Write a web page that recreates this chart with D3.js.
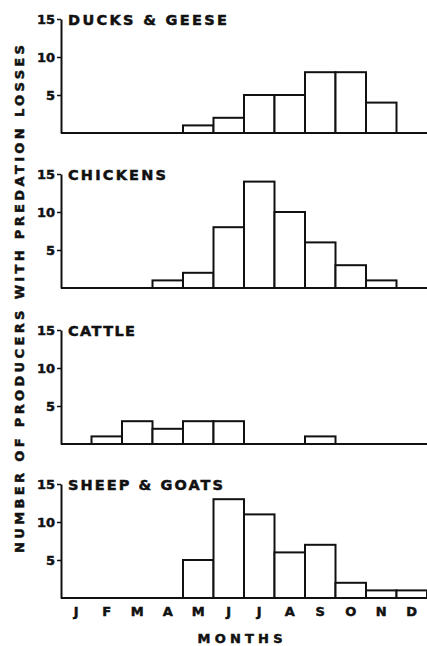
<!DOCTYPE html>
<html>
<head>
<meta charset="utf-8">
<script src="https://cdn.jsdelivr.net/npm/d3@7"></script>
<style>
  html, body { margin: 0; padding: 0; background: #fff; }
  svg { display: block; }
  text { font-family: "DejaVu Sans", "Liberation Sans", sans-serif; font-weight: bold; fill: #111; stroke: #111; stroke-width: 0.5px; }
</style>
</head>
<body>
<script>
// ---- data ----
const months = ["J","F","M","A","M","J","J","A","S","O","N","D"];
const monthKeys = ["Jan","Feb","Mar","Apr","May","Jun","Jul","Aug","Sep","Oct","Nov","Dec"];
const panelTitles = ["DUCKS & GEESE", "CHICKENS", "CATTLE", "SHEEP & GOATS"];
const ducksGeese   = [0, 0, 0, 0, 1, 2, 5, 5, 8, 8, 4, 0];
const chickens     = [0, 0, 0, 1, 2, 8, 14, 10, 6, 3, 1, 0];
const cattle       = [0, 1, 3, 2, 3, 3, 0, 0, 1, 0, 0, 0];
const sheepGoats   = [0, 0, 0, 0, 5, 13, 11, 6, 7, 2, 1, 1];
const yTicks = [5, 10, 15];
const yAxisTitle = "NUMBER OF PRODUCERS WITH PREDATION LOSSES";
const xAxisTitle = "MONTHS";

const seriesList = [ducksGeese, chickens, cattle, sheepGoats];

// ---- layout ----
const W = 427, H = 646;
const baselines = [133, 288, 444, 598];
const panelH = 114;
const titleWidths = [159, 98, 67, 155];

const svg = d3.select("body").append("svg").attr("width", W).attr("height", H);

const x = d3.scaleBand().domain(monthKeys).range([61, 427]).padding(0);

seriesList.forEach((vals, i) => {
  const base = baselines[i];
  const y = d3.scaleLinear().domain([0, 15]).range([base, base - panelH]);
  const g = svg.append("g");

  const data = monthKeys.map((k, j) => ({ k, v: vals[j] })).filter(d => d.v > 0);
  g.selectAll("rect.bar").data(data).enter().append("rect")
    .attr("class", "bar")
    .attr("x", d => x(d.k))
    .attr("y", d => y(d.v))
    .attr("width", x.bandwidth())
    .attr("height", d => y(0) - y(d.v))
    .attr("fill", "#fff")
    .attr("stroke", "#111")
    .attr("stroke-width", 2);

  g.append("line")
    .attr("x1", x.range()[0]).attr("x2", x.range()[1])
    .attr("y1", y(0)).attr("y2", y(0))
    .attr("stroke", "#111").attr("stroke-width", 2);

  const ax = g.append("g")
    .attr("transform", `translate(${x.range()[0]},0)`)
    .call(d3.axisLeft(y).tickValues(yTicks).tickSize(4).tickSizeOuter(0).tickPadding(2));
  ax.select(".domain").attr("stroke", "#111").attr("stroke-width", 2);
  ax.selectAll(".tick line").attr("stroke", "#111").attr("stroke-width", 1.5);
  ax.selectAll(".tick text")
    .style("font-family", "'DejaVu Sans', sans-serif")
    .style("font-weight", "bold")
    .style("font-size", "13px")
    .attr("fill", "#111");

  g.append("text")
    .attr("x", 68)
    .attr("y", base - panelH + 6)
    .attr("font-size", 14.5)
    .attr("textLength", titleWidths[i])
    .attr("lengthAdjust", "spacing")
    .text(panelTitles[i]);
});

const xa = svg.append("g")
  .attr("transform", `translate(0,${baselines[3] + 5})`)
  .call(d3.axisBottom(x).tickSize(0).tickPadding(4).tickFormat((d, j) => months[j]));
xa.select(".domain").remove();
xa.selectAll(".tick text")
  .style("font-family", "'DejaVu Sans', sans-serif")
  .style("font-weight", "bold")
  .style("font-size", "13px")
  .attr("fill", "#111");

svg.append("text")
  .attr("x", 240).attr("y", 643)
  .attr("text-anchor", "middle")
  .attr("font-size", 13)
  .attr("textLength", 85)
  .attr("lengthAdjust", "spacing")
  .text(xAxisTitle);

svg.append("text")
  .attr("transform", "translate(24,299) rotate(-90)")
  .attr("text-anchor", "middle")
  .attr("font-size", 13)
  .attr("textLength", 508)
  .attr("lengthAdjust", "spacing")
  .text(yAxisTitle);
</script>
</body>
</html>
